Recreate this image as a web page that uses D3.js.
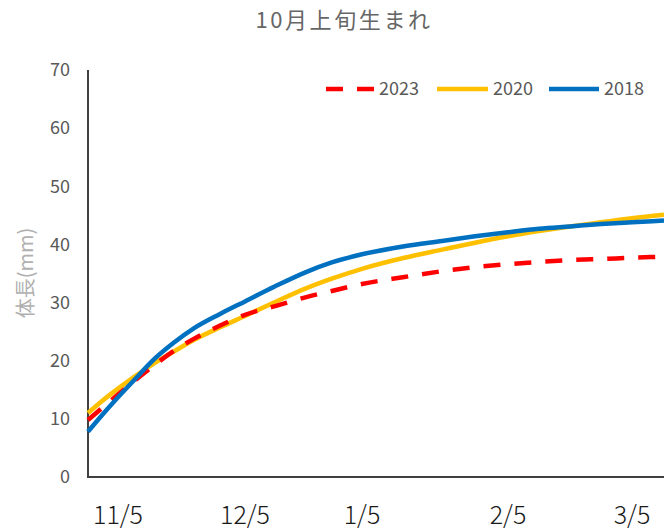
<!DOCTYPE html>
<html><head><meta charset="utf-8">
<script src="https://cdn.jsdelivr.net/npm/d3@7"></script>
<style>body{margin:0;background:#fff;} svg{display:block;font-family:"Noto Sans CJK JP","Noto Sans",sans-serif;}</style>
</head><body>
<script>
// days relative to 11/5
const days = [-7,-4,0,4,8,13,18,24,30,38,46,53,61,70,78,85,92,99,106,113,120,127.5];
const s2023 = [9.8,11.7,14.2,16.6,18.9,21.6,23.8,26.0,27.9,29.4,30.9,32.0,33.2,34.4,35.4,36.1,36.6,37.0,37.3,37.5,37.7,37.9];
const s2020 = [11.0,12.9,15.2,17.3,19.3,21.5,23.6,25.7,27.7,30.1,32.4,34.1,35.8,37.7,39.1,40.3,41.4,42.3,43.1,43.8,44.5,45.1];
const s2018 = [7.8,10.4,13.7,16.8,19.9,23.0,25.6,28.0,30.2,32.8,35.2,36.9,38.3,39.7,40.6,41.4,42.1,42.7,43.1,43.5,43.8,44.1];
const tickDays = [0,30,61,92,120];
const tickLabels = ["11/5","12/5","1/5","2/5","3/5"];
const yTicks = [0,10,20,30,40,50,60,70];
const seriesNames = ["2023","2020","2018"];
const seriesColors = ["#FF0000","#FFC000","#0070C0"];
const title = "10月上旬生まれ";
const yLabel = "体長(mm)";

const W=664,H=532;
const svg=d3.select("body").append("svg").attr("width",W).attr("height",H);
const x=d3.scaleLinear().domain([-7,0,30,61,92,120,127.5]).range([88,118,245,362,508,632,664]);
const y=d3.scaleLinear().domain([0,70]).range([477,70]);

svg.append("text").attr("x",344).attr("y",28).attr("text-anchor","middle")
  .attr("font-size",22).attr("letter-spacing",2.6).attr("fill","#666666").text(title);

// y tick labels
svg.append("g").selectAll("text").data(yTicks).join("text")
  .attr("x",70).attr("y",d=>y(d)).attr("dy","0.35em").attr("text-anchor","end")
  .attr("font-size",18).attr("fill","#595959").text(d=>d);

// x tick labels
svg.append("g").selectAll("text").data(tickDays).join("text")
  .attr("x",d=>x(d)).attr("y",524).attr("text-anchor","middle")
  .attr("font-size",25).attr("font-weight",300).attr("fill","#1a1a1a").text((d,i)=>tickLabels[i]);

// y label
svg.append("text").attr("transform","translate(33,273) rotate(-90)").attr("text-anchor","middle")
  .attr("font-size",20).attr("fill","#b0b0b0").text(yLabel);

// axes lines
svg.append("line").attr("x1",88).attr("x2",88).attr("y1",y(70)).attr("y2",y(0)+1).attr("stroke","#404040").attr("stroke-width",2);
svg.append("line").attr("x1",87).attr("x2",664).attr("y1",y(0)).attr("y2",y(0)).attr("stroke","#404040").attr("stroke-width",2);

const line=d3.line().x((d,i)=>x(days[i])).y(d=>y(d)).curve(d3.curveMonotoneX);
const series=[s2023,s2020,s2018];
[1,0,2].forEach(k=>{
  svg.append("path").attr("d",line(series[k])).attr("fill","none")
    .attr("stroke",seriesColors[k]).attr("stroke-width",4.5)
    .attr("stroke-dasharray",k===0?"17,14":null);
});

// legend
const legX=[326,437,549], legLen=[48,51,50];
seriesNames.forEach((n,k)=>{
  svg.append("line").attr("x1",legX[k]).attr("x2",legX[k]+legLen[k]).attr("y1",89).attr("y2",89)
    .attr("stroke",seriesColors[k]).attr("stroke-width",4.5).attr("stroke-dasharray",k===0?"17,14":null);
  svg.append("text").attr("x",legX[k]+legLen[k]+5).attr("y",89).attr("dy","0.35em")
    .attr("font-size",18).attr("fill","#595959").text(n);
});
</script>
</body></html>
